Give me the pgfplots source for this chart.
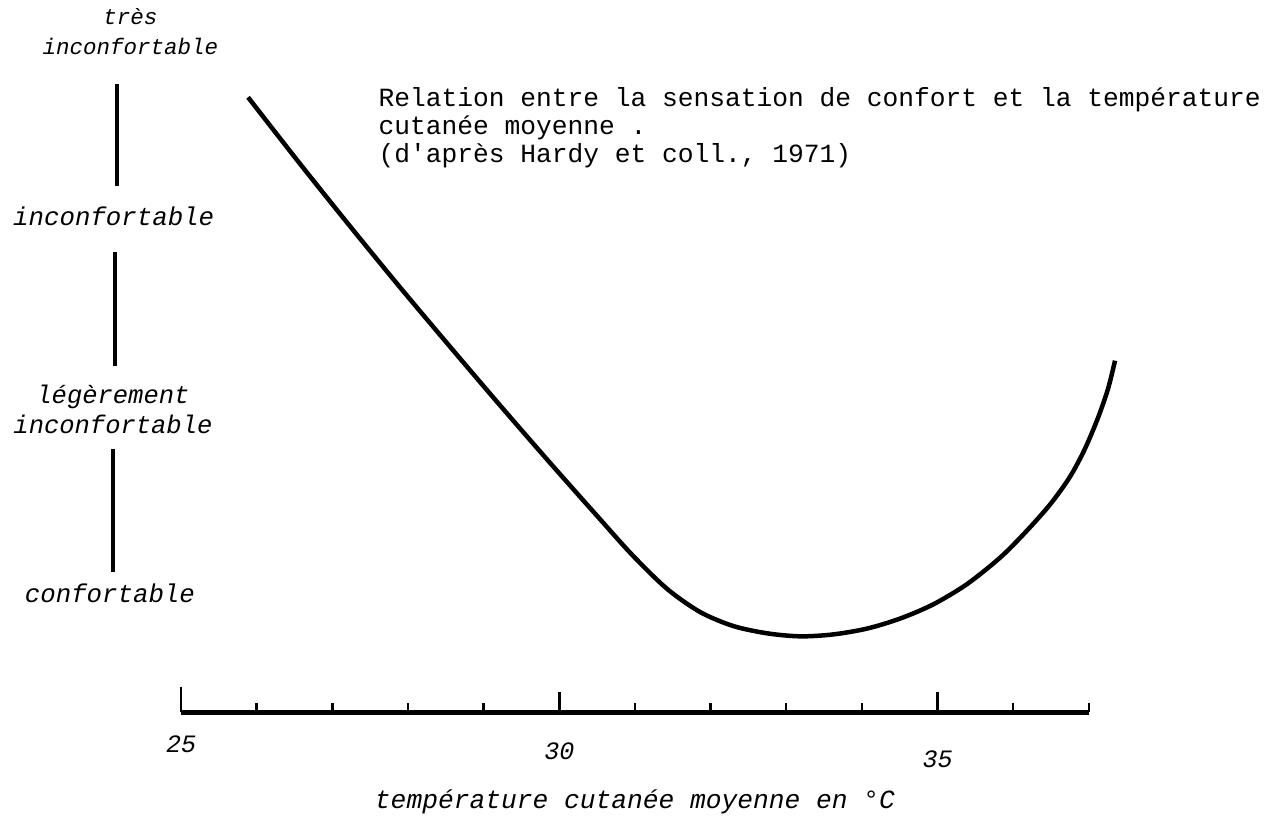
\documentclass[border=0pt]{standalone}
\usepackage{fontspec}
\setmainfont{Liberation Mono}
\usepackage{pgfplots}
\pgfplotsset{compat=1.18}

\begin{document}
\begin{tikzpicture}
\begin{axis}[
    scale only axis,
    width=363.1pt, height=246pt,
    xmin=25, xmax=37,
    ymin=-0.631, ymax=2.631,
    axis x line=bottom, axis y line=none,
    x axis line style={-, line width=2pt},
    clip=false,
    tick align=inside,
    xtick={25,30,35},
    xticklabels={25,\raisebox{-3pt}{30},\raisebox{-6pt}{35}},
    major tick length=8pt,
    minor xtick={26,27,28,29,31,32,33,34,36,37},
    minor tick length=3.8pt,
    tick style={black, line width=1pt},
    extra x ticks={25},
    extra x tick labels={},
    extra x tick style={major tick length=10pt},
    xticklabel style={anchor=base, yshift=-16pt, font=\itshape\fontsize{10}{12}\selectfont},
    xlabel={température cutanée moyenne en °C},
    xlabel style={at={(axis description cs:0.5,0)}, anchor=base, yshift=-38.5pt,
                  font=\itshape\fontsize{10.5}{12}\selectfont},
]
% invisible frame giving the page its size
\path (axis cs:22.607,3.125) rectangle (axis cs:39.408,-1.194);

% comfort vs mean skin temperature (Hardy et coll., 1971)
\addplot[black, line width=1.8pt, smooth, tension=0.5] coordinates {
    (25.886, 2.631) (26.573, 2.278) (27.234, 1.947) (27.895, 1.623)
    (28.556, 1.308) (29.217, 0.997) (29.878, 0.692) (30.539, 0.393)
    (30.975, 0.199) (31.424, 0.024) (31.861,-0.099) (32.297,-0.173)
    (32.746,-0.212) (33.183,-0.228) (33.619,-0.218) (34.068,-0.187)
    (34.504,-0.134) (34.941,-0.059) (35.390, 0.049) (35.826, 0.189)
    (36.157, 0.322) (36.487, 0.471) (36.752, 0.619) (36.950, 0.768)
    (37.122, 0.932) (37.254, 1.085) (37.346, 1.234)
};

% sensation scale on the left
\node[align=center, font=\itshape\fontsize{9}{12}\selectfont] at (axis cs:24.33,2.98) {très\\inconfortable};
\node[font=\itshape\fontsize{10.3}{12}\selectfont] at (axis cs:24.11,2.0) {inconfortable};
\node[align=center, font=\itshape\fontsize{10.2}{12}\selectfont] at (axis cs:24.10,0.976) {légèrement\\inconfortable};
\node[font=\itshape\fontsize{10.3}{12}\selectfont] at (axis cs:24.06,0) {confortable};
\draw[line width=1.8pt] (axis cs:24.154,2.700) -- (axis cs:24.154,2.159);
\draw[line width=1.8pt] (axis cs:24.128,1.809) -- (axis cs:24.128,1.204);
\draw[line width=1.8pt] (axis cs:24.101,0.764) -- (axis cs:24.101,0.111);

% caption
\node[anchor=base west, inner sep=0pt, font=\fontsize{10.5}{12}\selectfont] at (axis cs:27.604,2.584) {Relation entre la sensation de confort et la température};
\node[anchor=base west, inner sep=0pt, font=\fontsize{10.5}{12}\selectfont] at (axis cs:27.604,2.435) {cutanée moyenne .};
\node[anchor=base west, inner sep=0pt, font=\fontsize{10.5}{12}\selectfont] at (axis cs:27.604,2.286) {(d\textquotesingle après Hardy et coll., 1971)};
\end{axis}
\end{tikzpicture}
\end{document}
